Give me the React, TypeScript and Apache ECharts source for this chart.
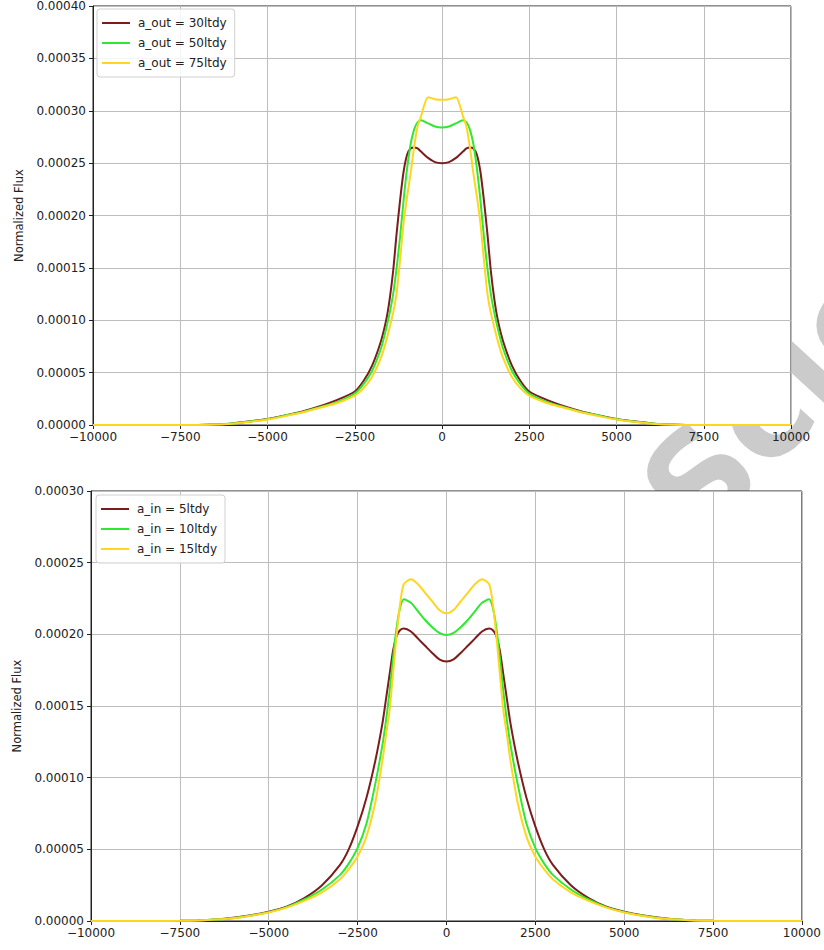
import React, { useEffect, useRef } from "react";
import * as echarts from "echarts";

// ---------- data (flux values are in units of 1e-5) ----------
const X_TOP = [-10000, -8000, -7000, -6500, -6000, -5500, -5000, -4500, -4000, -3500, -3000, -2500, -2250, -2000, -1750, -1600, -1500, -1400, -1300, -1200, -1100, -1000, -900, -800, -700, -600, -400, -200, 0,
  200, 400, 600, 700, 800, 900, 1000, 1100, 1200, 1300, 1400, 1500, 1600, 1750, 2000, 2250, 2500, 3000, 3500, 4000, 4500, 5000, 5500, 6000, 6500, 7000, 8000, 10000];

const TOP_OUT30 = [0, 0, 0, 0.04, 0.15, 0.35, 0.58, 0.92, 1.3, 1.8, 2.4, 3.2, 4.2, 5.7, 8.0, 10.0, 12.0, 14.7, 18.3, 21.5, 24.2, 25.8, 26.4, 26.5, 26.4, 26.1, 25.5, 25.1, 25.0,
  25.1, 25.5, 26.1, 26.4, 26.5, 26.4, 25.8, 24.2, 21.5, 18.3, 14.7, 12.0, 10.0, 8.0, 5.7, 4.2, 3.2, 2.4, 1.8, 1.3, 0.92, 0.58, 0.35, 0.15, 0.04, 0, 0, 0];
const TOP_OUT50 = [0, 0, 0, 0.04, 0.14, 0.33, 0.55, 0.9, 1.25, 1.7, 2.2, 3.0, 3.9, 5.2, 7.3, 9.2, 10.7, 12.5, 15.0, 18.0, 21.5, 24.5, 26.8, 28.2, 28.9, 29.1, 28.8, 28.5, 28.4,
  28.5, 28.8, 29.1, 28.9, 28.2, 26.8, 24.5, 21.5, 18.0, 15.0, 12.5, 10.7, 9.2, 7.3, 5.2, 3.9, 3.0, 2.2, 1.7, 1.25, 0.9, 0.55, 0.33, 0.14, 0.04, 0, 0, 0];
const TOP_OUT75 = [0, 0, 0, 0.04, 0.13, 0.3, 0.53, 0.85, 1.2, 1.65, 2.1, 2.8, 3.5, 4.6, 6.4, 8.0, 9.3, 10.7, 12.6, 15.8, 19.3, 21.8, 24.0, 26.5, 28.5, 29.5, 31.3, 31.1, 31.05,
  31.1, 31.3, 29.5, 28.5, 26.5, 24.0, 21.8, 19.3, 15.8, 12.6, 10.7, 9.3, 8.0, 6.4, 4.6, 3.5, 2.8, 2.1, 1.65, 1.2, 0.85, 0.53, 0.3, 0.13, 0.04, 0, 0, 0];

const X_BOTTOM = [-10000, -8000, -7500, -7000, -6500, -6000, -5500, -5000, -4500, -4000, -3500, -3000, -2750, -2500, -2250, -2000, -1800, -1700, -1600, -1500, -1400, -1300, -1200, -1000, -800, -600, -400, -200, 0,
  200, 400, 600, 800, 1000, 1200, 1300, 1400, 1500, 1600, 1700, 1800, 2000, 2250, 2500, 2750, 3000, 3500, 4000, 4500, 5000, 5500, 6000, 6500, 7000, 7500, 8000, 10000];

const BOT_IN5 = [0, 0, 0.01, 0.04, 0.1, 0.22, 0.4, 0.65, 1.0, 1.6, 2.5, 3.9, 5.0, 6.6, 8.6, 11.2, 13.8, 15.5, 17.2, 18.9, 19.9, 20.3, 20.4, 20.2, 19.7, 19.2, 18.7, 18.25, 18.1,
  18.25, 18.7, 19.2, 19.7, 20.2, 20.4, 20.3, 19.9, 18.9, 17.2, 15.5, 13.8, 11.2, 8.6, 6.6, 5.0, 3.9, 2.5, 1.6, 1.0, 0.65, 0.4, 0.22, 0.1, 0.04, 0.01, 0, 0];
const BOT_IN10 = [0, 0, 0.01, 0.04, 0.1, 0.2, 0.38, 0.62, 0.97, 1.5, 2.2, 3.2, 4.0, 5.1, 6.8, 9.6, 12.3, 14.0, 16.0, 18.4, 20.5, 21.9, 22.45, 22.2, 21.6, 21.0, 20.5, 20.1, 19.95,
  20.1, 20.5, 21.0, 21.6, 22.2, 22.45, 21.9, 20.5, 18.4, 16.0, 14.0, 12.3, 9.6, 6.8, 5.1, 4.0, 3.2, 2.2, 1.5, 0.97, 0.62, 0.38, 0.2, 0.1, 0.04, 0.01, 0, 0];
const BOT_IN15 = [0, 0, 0.01, 0.04, 0.1, 0.2, 0.37, 0.6, 0.93, 1.4, 2.0, 2.9, 3.6, 4.5, 5.9, 8.3, 11.2, 13.0, 14.7, 17.3, 20.0, 22.2, 23.5, 23.85, 23.5, 22.9, 22.3, 21.7, 21.47,
  21.7, 22.3, 22.9, 23.5, 23.85, 23.5, 22.2, 20.0, 17.3, 14.7, 13.0, 11.2, 8.3, 5.9, 4.5, 3.6, 2.9, 2.0, 1.4, 0.93, 0.6, 0.37, 0.2, 0.1, 0.04, 0.01, 0, 0];

const TOP_NAMES = ["a_out = 30ltdy", "a_out = 50ltdy", "a_out = 75ltdy"];
const BOTTOM_NAMES = ["a_in = 5ltdy", "a_in = 10ltdy", "a_in = 15ltdy"];
const X_TICK_LABELS = ["\u221210000", "\u22127500", "\u22125000", "\u22122500", "0", "2500", "5000", "7500", "10000"];
const Y_AXIS_NAME = "Normalized Flux";
const WATERMARK = "Science";

const COLORS = ["#7d1c1c", "#2fe82f", "#ffd61f"];
const FONT = "DejaVu Sans";
const TEXT = "#222";

function pairs(xs: number[], ys: number[]) {
  return xs.map((x, i) => [x, ys[i]]);
}

export default function App() {
  const ref = useRef<HTMLDivElement>(null);
  useEffect(() => {
    if (!ref.current) return;
    const chart = echarts.init(ref.current, null, { renderer: "svg" });

    const xAxisBase = (gridIndex: number) => ({
      gridIndex,
      type: "value",
      min: -10000,
      max: 10000,
      interval: 2500,
      axisLine: { show: true, onZero: false, lineStyle: { color: TEXT, width: 1 } },
      axisTick: { show: true, length: 4, lineStyle: { color: TEXT } },
      axisLabel: {
        show: true,
        showMinLabel: true,
        showMaxLabel: true,
        margin: 6,
        color: TEXT,
        fontSize: 12,
        fontFamily: FONT,
        formatter: (v: number) => X_TICK_LABELS[Math.round((v + 10000) / 2500)] ?? String(v),
      },
      splitLine: { show: true, lineStyle: { color: "#bdbdbd", width: 1 } },
    });

    const yAxisBase = (gridIndex: number, max: number) => ({
      gridIndex,
      type: "value",
      min: 0,
      max,
      interval: 5,
      name: Y_AXIS_NAME,
      nameLocation: "middle",
      nameGap: 68,
      nameTextStyle: { color: TEXT, fontSize: 11.5, fontFamily: FONT },
      axisLine: { show: true, onZero: false, lineStyle: { color: TEXT, width: 1 } },
      axisTick: { show: true, length: 4, lineStyle: { color: TEXT } },
      axisLabel: {
        margin: 7,
        color: TEXT,
        fontSize: 12,
        fontFamily: FONT,
        showMinLabel: true,
        showMaxLabel: true,
        formatter: (v: number) => (v / 100000).toFixed(5),
      },
      splitLine: { show: true, lineStyle: { color: "#bdbdbd", width: 1 } },
    });

    const legendBase = (left: number, top: number, data: string[]) => ({
      orient: "vertical",
      left,
      top,
      data,
      icon: "rect",
      itemWidth: 28,
      itemHeight: 2,
      itemGap: 6,
      padding: [7, 8, 7, 5],
      backgroundColor: "rgba(255,255,255,0.85)",
      borderColor: "#d0d0d0",
      borderWidth: 1,
      borderRadius: 3,
      textStyle: { color: TEXT, fontSize: 12, fontFamily: FONT, lineHeight: 14, padding: [0, 0, 0, 3] },
      selectedMode: false,
    });

    const line = (name: string, xs: number[], ys: number[], color: string, idx: number) => ({
      name,
      type: "line",
      xAxisIndex: idx,
      yAxisIndex: idx,
      data: pairs(xs, ys),
      showSymbol: false,
      symbol: "none",
      smooth: 0.25,
      lineStyle: { color, width: 2 },
      itemStyle: { color },
    });

    chart.setOption({
      animation: false,
      backgroundColor: "transparent",
      textStyle: { fontFamily: FONT },
      grid: [
        { left: 93, top: 5, width: 698, height: 420, show: true, backgroundColor: "#ffffff", borderColor: TEXT, borderWidth: 1 },
        { left: 91, top: 491, width: 714, height: 430, show: true, backgroundColor: "#ffffff", borderColor: TEXT, borderWidth: 1 },
      ],
      xAxis: [xAxisBase(0), xAxisBase(1)],
      yAxis: [yAxisBase(0, 40), yAxisBase(1, 30)],
      legend: [legendBase(97, 9, TOP_NAMES), legendBase(96, 495, BOTTOM_NAMES)],
      series: [
        line(TOP_NAMES[0], X_TOP, TOP_OUT30, COLORS[0], 0),
        line(TOP_NAMES[1], X_TOP, TOP_OUT50, COLORS[1], 0),
        line(TOP_NAMES[2], X_TOP, TOP_OUT75, COLORS[2], 0),
        line(BOTTOM_NAMES[0], X_BOTTOM, BOT_IN5, COLORS[0], 1),
        line(BOTTOM_NAMES[1], X_BOTTOM, BOT_IN10, COLORS[1], 1),
        line(BOTTOM_NAMES[2], X_BOTTOM, BOT_IN15, COLORS[2], 1),
      ],
    });
    return () => chart.dispose();
  }, []);

  return (
    <div style={{ position: "fixed", left: 0, top: 0, width: 824, height: 950, background: "#fff", overflow: "hidden" }}>
      <div
        style={{
          position: "absolute",
          left: 668,
          top: 448,
          height: 135,
          lineHeight: "135px",
          fontSize: 135,
          fontWeight: "bold",
          fontFamily: FONT,
          color: "#cbcbcb",
          whiteSpace: "nowrap",
          transformOrigin: "0 50%",
          transform: "rotate(-47.5deg)",
          zIndex: 0,
        }}
      >
        {WATERMARK}
      </div>
      <div
        ref={ref}
        style={{ position: "absolute", left: 0, top: 0, width: 824, height: 950, zIndex: 1 }}
      />
    </div>
  );
}
